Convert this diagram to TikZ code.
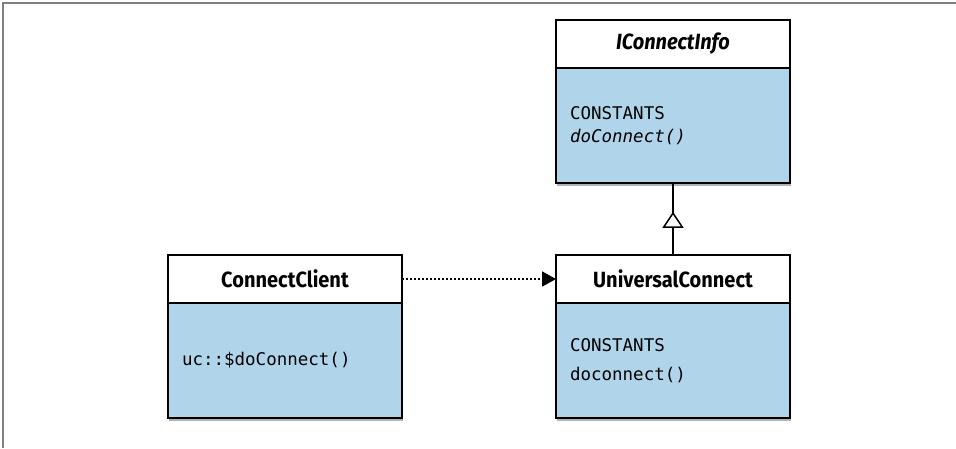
\documentclass[tikz,border=0pt]{standalone}
\usepackage{fontspec}
\usetikzlibrary{positioning, arrows.meta, shadows, decorations.markings}

\newfontfamily\headfont[FakeStretch=0.91]{Fira Sans}
\newfontfamily\codefont{DejaVu Sans Mono}

\definecolor{classblue}{RGB}{176,212,234}
\definecolor{framegray}{RGB}{128,128,128}

\tikzset{
	classhead/.style={draw, line width=1.6pt, fill=white, outer sep=0pt, inner sep=0pt,
		minimum width=234pt, minimum height=48pt,
		font=\headfont\bfseries\fontsize{22}{26}\selectfont},
	classbody/.style={draw, line width=1.6pt, fill=classblue, outer sep=0pt,
		text width=206pt, inner xsep=14pt, inner ysep=0pt, minimum height=115pt, align=left,
		font=\codefont\fontsize{17.5}{23}\selectfont,
		drop shadow={shadow xshift=1pt, shadow yshift=-3pt, opacity=0.3, fill=black}},
	depends/.style={line width=1.8pt, dash pattern=on 2pt off 2pt,
		-{Triangle[length=14pt, width=15pt]}},
	inherits/.style={line width=1.5pt,
		decoration={markings, mark=at position 0.6 with
			{\arrow{Triangle[length=16pt, width=21pt, fill=white, line width=1.5pt]}}},
		postaction={decorate}},
}

\begin{document}
\begin{tikzpicture}[x=1pt, y=-1pt]

	\useasboundingbox (0,0) rectangle (956,448);

	% --- Frame ---
	\draw[framegray, line width=2pt] (956,3) -- (3,3) -- (3,448);

	% --- Interface ---
	\node[classhead, anchor=north west] (icHead) at (556,20) {\itshape IConnectInfo};
	\node[classbody, below=0pt of icHead] (icBody) {CONSTANTS\\\textit{doConnect()}};

	% --- Implementing class ---
	\node[classhead, anchor=north west] (ucHead) at (556,255) {UniversalConnect};
	\node[classbody, below=0pt of ucHead] (ucBody) {CONSTANTS\\[6pt]doconnect()};

	% --- Client ---
	\node[classhead, anchor=north west] (ccHead) at (168,255) {ConnectClient};
	\node[classbody, below=0pt of ccHead] (ccBody) {uc::\$doConnect()\\[12pt]};

	% --- Relations ---
	\draw[depends] (ccHead.east) -- (ucHead.west);
	\draw[inherits] (ucHead.north) -- (icBody.south);

\end{tikzpicture}
\end{document}
